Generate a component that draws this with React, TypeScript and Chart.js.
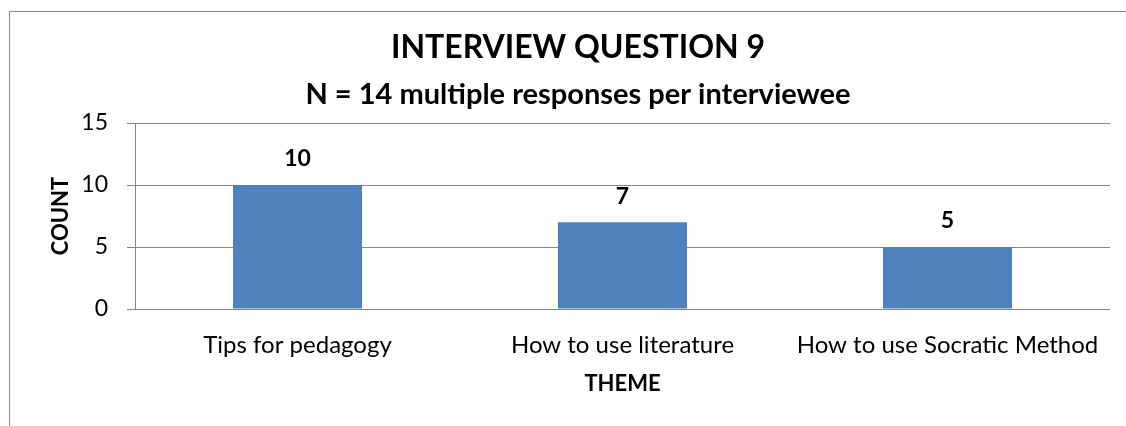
import React, { useEffect, useRef } from "react";
import { Chart, registerables } from "chart.js";

Chart.register(...registerables);

const categories = ["Tips for pedagogy", "How to use literature", "How to use Socratic Method"];
const counts = [10, 7, 5];
const yTicks = [0, 5, 10, 15];
const titleText = "INTERVIEW QUESTION 9";
const subtitleText = "N = 14 multiple responses per interviewee";
const xTitle = "THEME";
const yTitle = "COUNT";

const FONT = "Lato";
const GRID = "#868686";
const BAR = "#4F81BD";

const framePlugin = {
  id: "frame",
  beforeDraw(chart: any) {
    const ctx = chart.ctx;
    ctx.save();
    ctx.fillStyle = "#ffffff";
    ctx.fillRect(0, 0, chart.width, chart.height);
    ctx.strokeStyle = GRID;
    ctx.lineWidth = 1;
    ctx.beginPath();
    ctx.moveTo(9.5, chart.height);
    ctx.lineTo(9.5, 11.5);
    ctx.lineTo(chart.width, 11.5);
    ctx.stroke();
    ctx.restore();
  },
};

const valueLabelPlugin = {
  id: "valueLabels",
  afterDatasetsDraw(chart: any) {
    const ctx = chart.ctx;
    const meta = chart.getDatasetMeta(0);
    ctx.save();
    ctx.font = `bold 23px ${FONT}`;
    ctx.fillStyle = "#000000";
    ctx.textAlign = "center";
    ctx.textBaseline = "middle";
    meta.data.forEach((bar: any, i: number) => {
      ctx.fillText(String(counts[i]), bar.x, bar.y - 26);
    });
    ctx.restore();
  },
};

export default function App() {
  const ref = useRef<HTMLCanvasElement>(null);
  useEffect(() => {
    if (!ref.current) return;
    const chart = new Chart(ref.current, {
      type: "bar",
      data: {
        labels: categories,
        datasets: [
          {
            data: counts,
            backgroundColor: BAR,
            borderWidth: 0,
            barPercentage: 0.397,
            categoryPercentage: 1,
          },
        ],
      },
      options: {
        responsive: false,
        animation: false,
        layout: { padding: { left: 46, right: 16, top: 0, bottom: 0 } },
        plugins: {
          legend: { display: false },
          tooltip: { enabled: false },
          title: {
            display: true,
            text: titleText,
            color: "#000000",
            font: { family: FONT, size: 32, weight: "bold" },
            padding: { top: 28.3, bottom: 0 },
          },
          subtitle: {
            display: true,
            text: subtitleText,
            color: "#000000",
            font: { family: FONT, size: 29, weight: "bold" },
            padding: { top: 10.1, bottom: 11.4 },
          },
        },
        scales: {
          x: {
            grid: { display: false, drawTicks: false },
            border: { display: false },
            ticks: {
              color: "#000000",
              font: { family: FONT, size: 24 },
              padding: 21.6,
              maxRotation: 0,
              autoSkip: false,
            },
            title: {
              display: true,
              text: xTitle,
              color: "#000000",
              font: { family: FONT, size: 22, weight: "bold" },
              padding: { top: 0, bottom: 28.8 },
            },
            afterFit(scale: any) {
              scale.height = 117;
            },
          },
          y: {
            min: 0,
            max: 15,
            afterBuildTicks(scale: any) {
              scale.ticks = yTicks.map((v) => ({ value: v }));
            },
            grid: { color: GRID, lineWidth: 1, drawTicks: true, tickLength: 8 },
            border: { display: true, color: GRID, width: 1 },
            ticks: {
              color: "#000000",
              font: { family: FONT, size: 23 },
              padding: 19,
            },
            title: {
              display: true,
              text: yTitle,
              color: "#000000",
              font: { family: FONT, size: 22, weight: "bold" },
              padding: { top: 1.5, bottom: 0 },
            },
            afterFit(scale: any) {
              scale.width = 89;
            },
          },
        },
      },
      plugins: [framePlugin, valueLabelPlugin],
    });
    return () => chart.destroy();
  }, []);
  return (
    <div style={{ position: "absolute", left: 0, top: 0, width: 1126, height: 426 }}>
      <canvas ref={ref} width={1126} height={426} style={{ display: "block" }} />
    </div>
  );
}
